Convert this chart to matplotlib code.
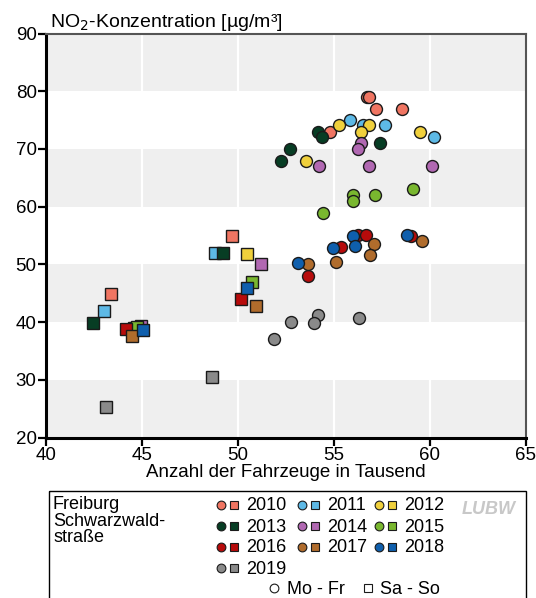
import matplotlib
matplotlib.use("Agg")
import matplotlib.pyplot as plt
from matplotlib.patches import Rectangle

plt.rcParams['font.family'] = ['Liberation Sans', 'DejaVu Sans']

years = ['2010', '2011', '2012', '2013', '2014', '2015', '2016', '2017', '2018', '2019']
colors = ['#F07562', '#5DB9E6', '#F0D03C', '#073D24', '#B168B2', '#79B72F',
          '#B70B0B', '#B06C2C', '#0F5FAD', '#8A8A8A']

# Weekday means (Mo - Fr): traffic volume [thousand vehicles], NO2 [µg/m³]
wd_x = {
    '2010': [56.72, 56.84, 57.20, 58.54, 54.81],
    '2011': [55.86, 56.51, 57.67, 60.21],
    '2012': [55.28, 56.82, 56.41, 59.48, 53.54],
    '2013': [54.17, 54.39, 57.41, 52.72, 52.25],
    '2014': [56.44, 56.25, 54.22, 56.84, 60.12],
    '2015': [59.13, 57.15, 56.02, 55.99, 54.43],
    '2016': [56.28, 56.70, 55.38, 59.01, 53.65],
    '2017': [57.08, 56.89, 59.60, 55.14, 53.66],
    '2018': [56.02, 56.09, 54.96, 58.82, 53.16],
    '2019': [54.17, 52.78, 53.96, 56.30, 51.89],
}
wd_y = {
    '2010': [79.05, 79.05, 77.0, 77.0, 73.0],
    '2011': [75.0, 74.1, 74.1, 72.1],
    '2012': [74.1, 74.1, 73.0, 73.0, 68.0],
    '2013': [73.0, 72.0, 71.1, 70.0, 68.0],
    '2014': [71.1, 70.0, 67.0, 67.0, 67.0],
    '2015': [63.0, 62.0, 62.0, 61.0, 58.9],
    '2016': [55.1, 55.1, 52.95, 54.9, 48.0],
    '2017': [53.5, 51.7, 54.0, 50.4, 50.05],
    '2018': [54.9, 53.2, 52.9, 55.1, 50.2],
    '2019': [41.3, 40.0, 39.9, 40.8, 37.05],
}
# Weekend means (Sa - So)
we_x = {
    '2010': [49.69, 43.40],
    '2011': [48.82, 43.05],
    '2012': [50.48, 44.60],
    '2013': [49.25, 42.45],
    '2014': [51.21, 44.95],
    '2015': [50.74, 44.74],
    '2016': [50.17, 44.17],
    '2017': [50.97, 44.48],
    '2018': [50.48, 45.05],
    '2019': [48.66, 43.13],
}
we_y = {
    '2010': [54.96, 44.97],
    '2011': [52.0, 41.96],
    '2012': [51.9, 39.0],
    '2013': [52.0, 39.95],
    '2014': [50.0, 39.3],
    '2015': [46.93, 39.18],
    '2016': [43.99, 38.91],
    '2017': [42.89, 37.69],
    '2018': [45.84, 38.73],
    '2019': [30.59, 25.27],
}

W, H = 536, 598
fig = plt.figure(figsize=(W / 100, H / 100), dpi=100)
ax = fig.add_axes([45.7 / W, 1 - 437.7 / H, 480 / W, 404.2 / H])

ax.set_xlim(40, 65)
ax.set_ylim(20, 90)
for lo in (20, 40, 60, 80):
    ax.axhspan(lo, lo + 10, color='#EFEFEF', lw=0, zorder=0)
for xv in (45, 50, 55, 60):
    ax.axvline(xv, color='white', lw=1.6, zorder=0.5)

ms = 8.6
for yr, c in zip(years, colors):
    ax.plot(wd_x[yr], wd_y[yr], 'o', ms=ms, mfc=c, mec='#1a1a1a', mew=1.0,
            ls='none', zorder=3)
for yr, c in zip(years, colors):
    ax.plot(we_x[yr], we_y[yr], 's', ms=ms, mfc=c, mec='#1a1a1a', mew=1.0,
            ls='none', zorder=3)

ax.set_xticks([40, 45, 50, 55, 60, 65])
ax.set_yticks([20, 30, 40, 50, 60, 70, 80, 90])
ax.tick_params(axis='both', direction='out', length=5.5, width=1.6,
               labelsize=13.5, color='black', pad=1)
for s in ('left', 'bottom'):
    ax.spines[s].set_linewidth(2.2)
    ax.spines[s].set_color('black')
for s in ('top', 'right'):
    ax.spines[s].set_linewidth(1.5)
    ax.spines[s].set_color('#555555')
ax.set_xlabel('Anzahl der Fahrzeuge in Tausend', fontsize=13.5, labelpad=0)

fig.text(50 / W, 1 - 27 / H, 'NO$_2$-Konzentration [µg/m³]', fontsize=14,
         ha='left', va='baseline')

# Legend panel in pixel coordinates
lax = fig.add_axes([0, 0, 1, 1], zorder=-1)
lax.set_xlim(0, W)
lax.set_ylim(H, 0)
lax.axis('off')
lax.add_patch(Rectangle((48.5, 490.5), 477, 120, fill=False, ec='black', lw=1.0))

lax.text(53, 496, 'Freiburg\nSchwarzwald-\nstraße', fontsize=13, va='top',
         ha='left', linespacing=0.98)

col_x = [221, 302, 379]
row_y = [505, 526, 547, 568]
for i, (yr, c) in enumerate(zip(years, colors)):
    r, k = divmod(i, 3)
    cx, cy = col_x[k], row_y[r]
    lax.plot(cx, cy, 'o', ms=6.3, mfc=c, mec='#1a1a1a', mew=0.8)
    lax.plot(cx + 12.5, cy, 's', ms=6.3, mfc=c, mec='#1a1a1a', mew=0.8)
    lax.text(cx + 25, cy + 1, yr, fontsize=13, va='center', ha='left')

lax.plot(274, 588, 'o', ms=6.3, mfc='white', mec='#1a1a1a', mew=0.8)
lax.text(287, 589, 'Mo - Fr', fontsize=13, va='center', ha='left')
lax.plot(368, 588, 's', ms=6.3, mfc='white', mec='#1a1a1a', mew=0.8)
lax.text(380, 589, 'Sa - So', fontsize=13, va='center', ha='left')

lax.text(489, 510, 'LUBW', fontsize=13, fontweight='bold', style='italic',
         color='#C8C8C8', ha='center', va='center')

fig.savefig('out.png', dpi=100)
